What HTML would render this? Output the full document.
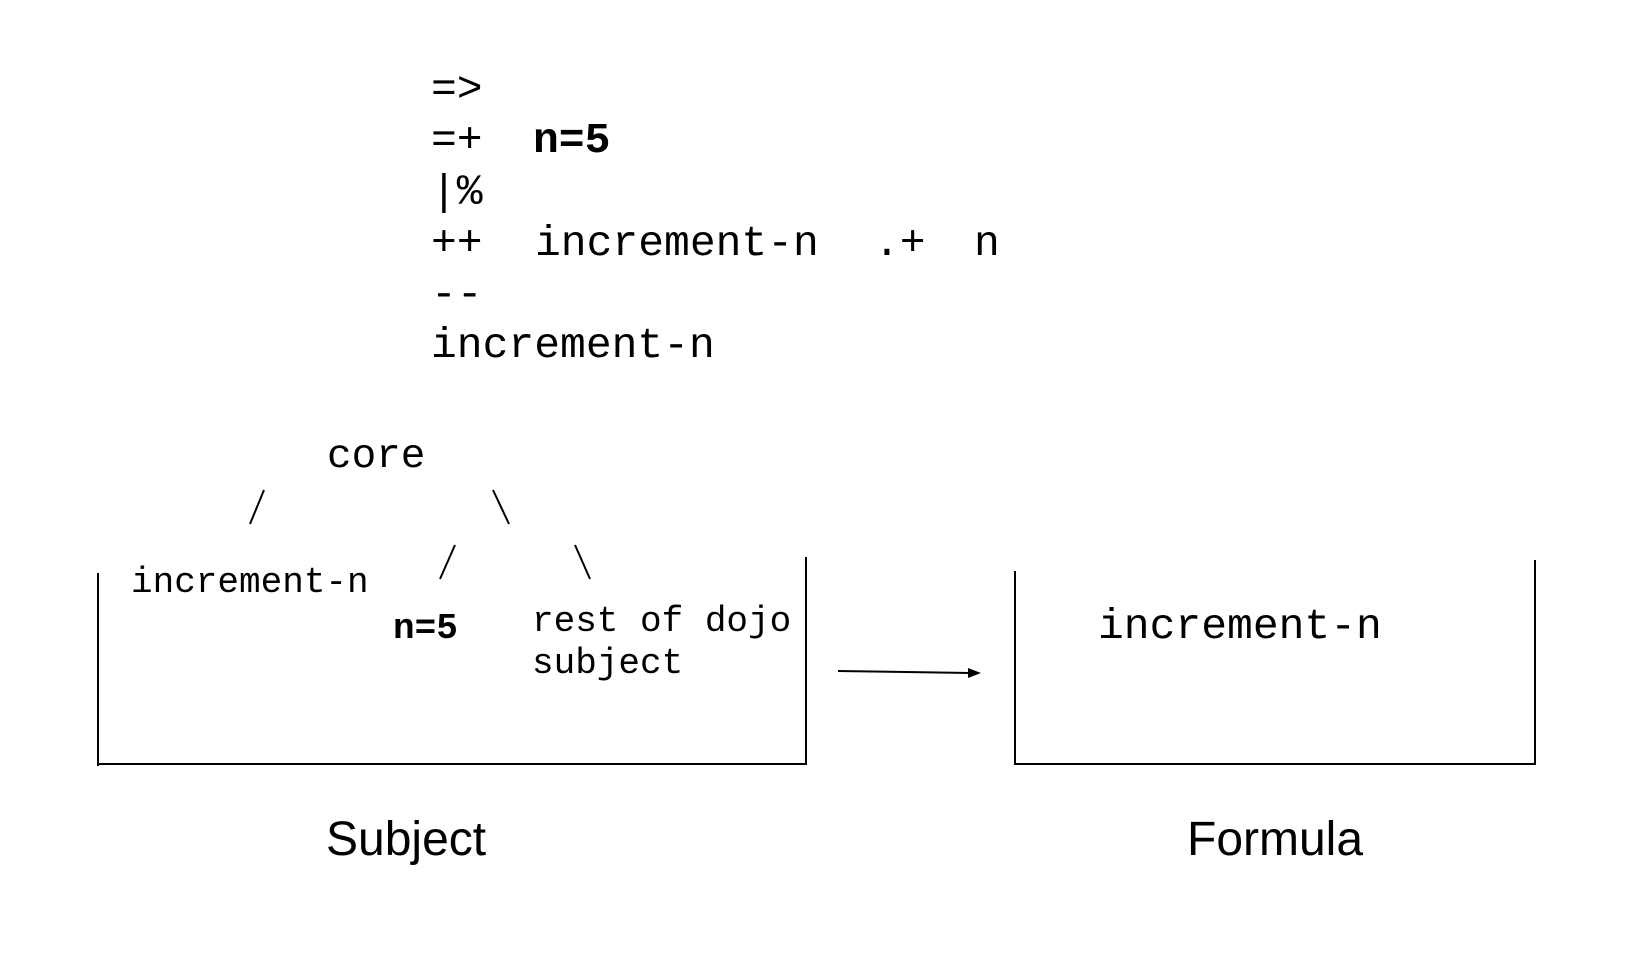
<!DOCTYPE html>
<html><head><meta charset="utf-8"><style>
html,body{margin:0;padding:0;background:#fff;}
svg{display:block;}
.m{font-family:"Liberation Mono",monospace;fill:#000;}
.s{font-family:"Liberation Sans",sans-serif;fill:#000;}
</style></head><body>
<svg width="1644" height="958" viewBox="0 0 1644 958" xmlns="http://www.w3.org/2000/svg">
<g class="m" font-size="43">
<text x="431" y="101">=&gt;</text>
<text x="431" y="152">=+</text>
<text x="533" y="152" font-weight="bold">n=5</text>
<text x="431" y="204">|%</text>
<text x="431" y="255">++</text>
<text x="535" y="255">increment-n</text>
<text x="874" y="255">.+</text>
<text x="974" y="255">n</text>
<text x="431" y="306">--</text>
<text x="431" y="357">increment-n</text>
<text x="327" y="467" font-size="41">core</text>
</g>
<g stroke="#000" stroke-width="2" fill="none">
<line x1="264" y1="490" x2="250" y2="524"/>
<line x1="493" y1="490" x2="509" y2="524"/>
<line x1="455" y1="545" x2="440" y2="579"/>
<line x1="575" y1="545" x2="590" y2="579"/>
<line x1="98" y1="573" x2="98" y2="766"/>
<line x1="97" y1="764" x2="805" y2="764"/>
<line x1="806" y1="557" x2="806" y2="765"/>
<line x1="1015" y1="571" x2="1015" y2="765"/>
<line x1="1014" y1="764" x2="1535" y2="764"/>
<line x1="1535" y1="560" x2="1535" y2="765"/>
<line x1="838" y1="671" x2="970" y2="673"/>
</g>
<polygon points="981,673 968,668 968,678" fill="#000"/>
<g class="m" font-size="36">
<text x="131" y="592">increment-n</text>
<text x="393" y="638" font-weight="bold">n=5</text>
<text x="532" y="631">rest of dojo</text>
<text x="532" y="673">subject</text>
</g>
<text class="m" x="1098" y="638" font-size="43">increment-n</text>
<text class="s" x="326" y="855" font-size="48">Subject</text>
<text class="s" x="1187" y="855" font-size="48">Formula</text>
</svg>
</body></html>
